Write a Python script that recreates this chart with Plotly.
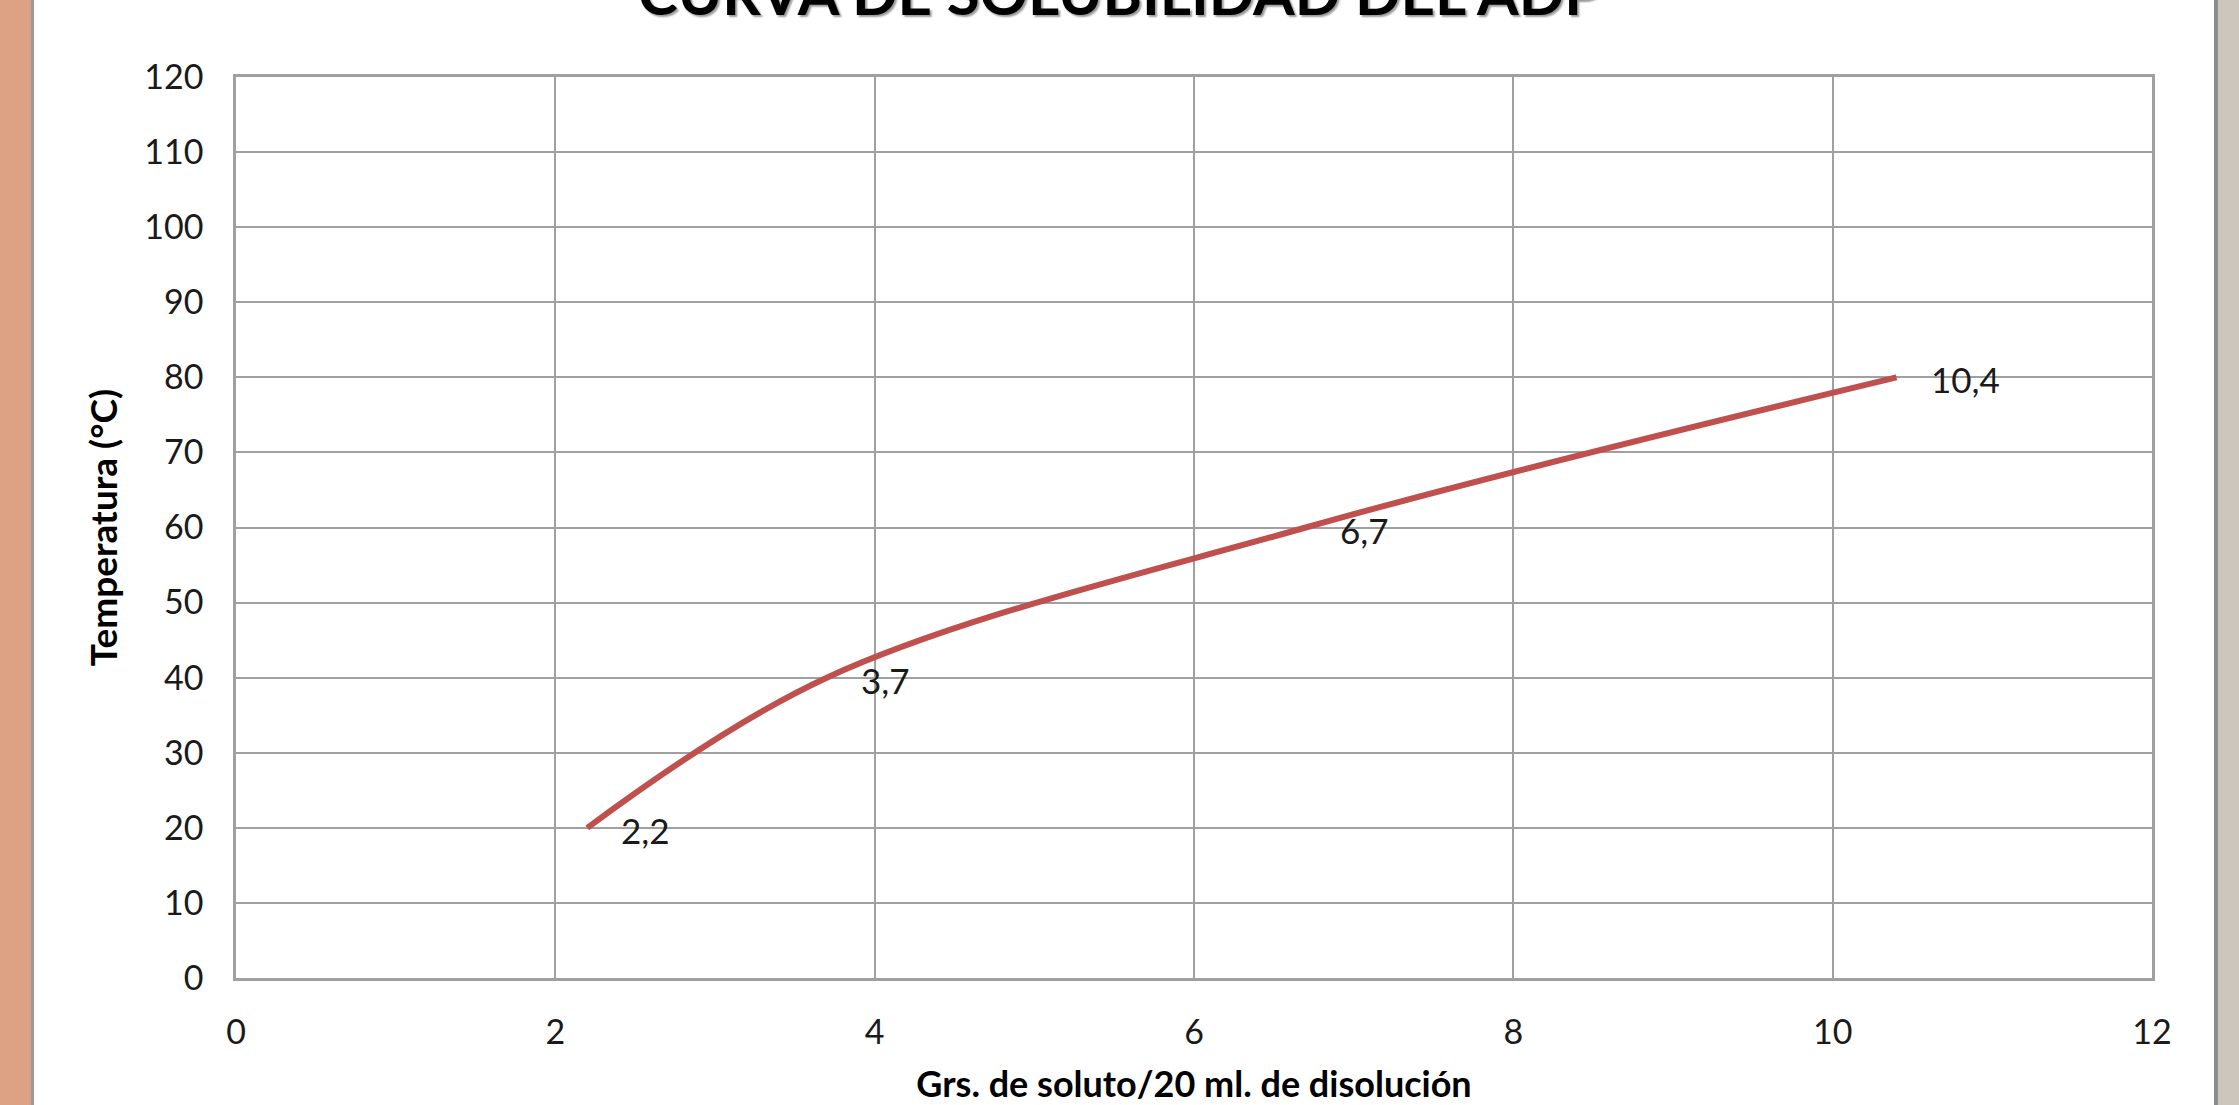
import plotly.graph_objects as go

# Solubility curve: grams of solute per 20 ml solution vs temperature
gramos = [2.2, 3.7, 6.7, 10.4]
temperatura = [20, 40, 60, 80]
etiquetas = ["2,2", "3,7", "6,7", "10,4"]

x_ticks = [0, 2, 4, 6, 8, 10, 12]
y_ticks = [0, 10, 20, 30, 40, 50, 60, 70, 80, 90, 100, 110, 120]

W, H = 2239, 1105
L, R, T, B = 236, 87, 77, 127
PW = W - L - R
PH = H - T - B


def px_x(p):
    return (p - L) / PW


def px_y(p):
    return (H - B - p) / PH


FONT = "Lato, 'Open Sans', sans-serif"
GRID = "#a0a0a0"

fig = go.Figure()
fig.add_trace(go.Scatter(
    x=gramos, y=temperatura,
    mode="lines",
    line=dict(color="#c0504d", width=6, shape="spline", smoothing=1.0),
    hoverinfo="x+y",
    showlegend=False,
))

# data labels showing the solute mass next to each point
for gx, ty, lab in zip(gramos, temperatura, etiquetas):
    fig.add_annotation(
        x=gx, y=ty, text=lab, showarrow=False,
        xanchor="left", yanchor="middle", xshift=32, yshift=-2,
        font=dict(family=FONT, size=35, color="#1a1a1a"),
    )

# chart title (runs off the top edge of the page)
fig.add_annotation(
    xref="paper", yref="paper",
    x=px_x(1119), y=px_y(30), xanchor="center", yanchor="bottom",
    text="<b>CURVA DE SOLUBILIDAD DEL ADP</b>", showarrow=False,
    font=dict(family=FONT, size=60, color="#000000",
              shadow="2px 2px 2px #9a9a9a"),
)

# window frame strips at the left and right edges
fig.add_shape(type="rect", xref="paper", yref="paper", layer="below",
              x0=px_x(0), x1=px_x(31), y0=px_y(H), y1=px_y(0),
              fillcolor="#dda184", line_width=0)
fig.add_shape(type="rect", xref="paper", yref="paper", layer="below",
              x0=px_x(31), x1=px_x(34), y0=px_y(H), y1=px_y(0),
              fillcolor="#9a9a9a", line_width=0)
fig.add_shape(type="rect", xref="paper", yref="paper", layer="below",
              x0=px_x(2214), x1=px_x(2218), y0=px_y(H), y1=px_y(0),
              fillcolor="#8c8c8c", line_width=0)
fig.add_shape(type="rect", xref="paper", yref="paper", layer="below",
              x0=px_x(2218), x1=px_x(W), y0=px_y(H), y1=px_y(0),
              fillcolor="#cdc6bd", line_width=0)

fig.update_layout(
    width=W, height=H,
    margin=dict(l=L, r=R, t=T, b=B, autoexpand=False),
    paper_bgcolor="white", plot_bgcolor="white",
    font=dict(family=FONT, color="#1a1a1a"),
    xaxis=dict(
        range=[0, 12], tickvals=x_ticks, ticktext=[str(v) for v in x_ticks],
        showgrid=True, gridcolor=GRID, gridwidth=2,
        showline=True, linecolor=GRID, linewidth=2.5, mirror=True,
        zeroline=False, ticks="", ticklabelstandoff=22,
        tickfont=dict(family=FONT, size=34, color="#1a1a1a"),
        title=dict(text="<b>Grs. de soluto/20 ml. de disolución</b>",
                   font=dict(family=FONT, size=36, color="#000000"),
                   standoff=25),
    ),
    yaxis=dict(
        range=[0, 120], tickvals=y_ticks, ticktext=[str(v) for v in y_ticks],
        showgrid=True, gridcolor=GRID, gridwidth=2,
        showline=True, linecolor=GRID, linewidth=2.5, mirror=True,
        zeroline=False, ticks="", ticklabelstandoff=23,
        tickfont=dict(family=FONT, size=34, color="#1a1a1a"),
        title=dict(text="<b>Temperatura (°C)</b>",
                   font=dict(family=FONT, size=37, color="#000000"),
                   standoff=16),
    ),
)

fig.write_html("out.html")
